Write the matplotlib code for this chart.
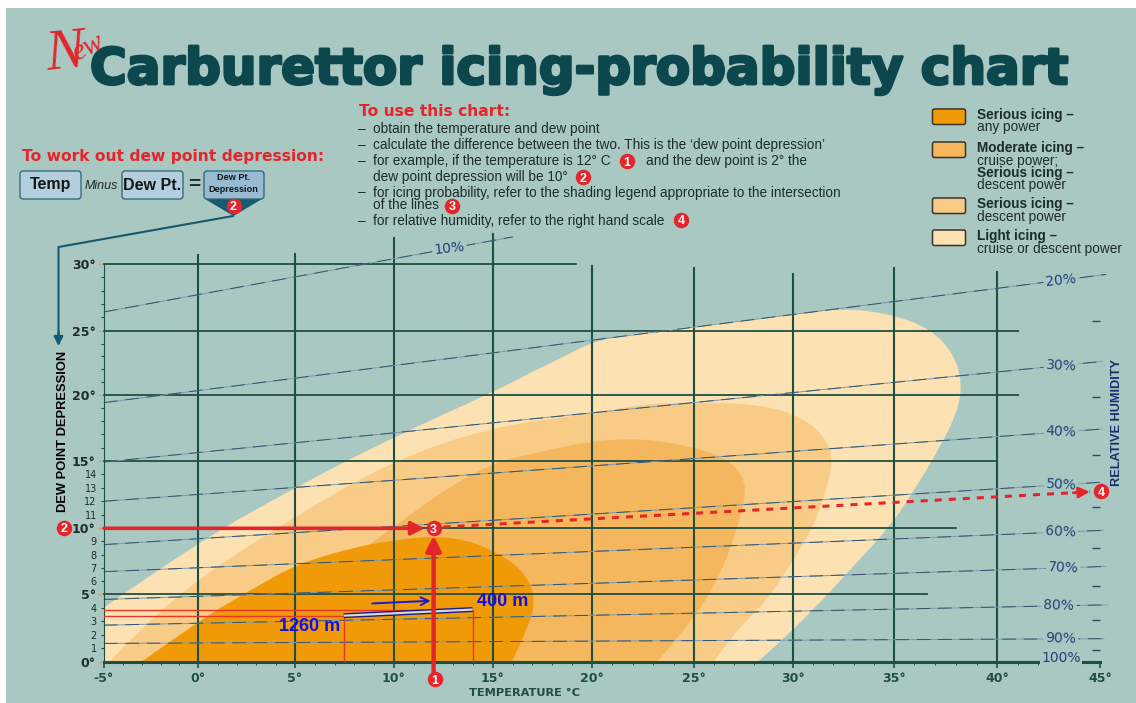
import numpy as np
import matplotlib
matplotlib.use('Agg')
import matplotlib.pyplot as plt
import matplotlib.patheffects as pe
from matplotlib.patches import FancyBboxPatch, PathPatch, Polygon, Rectangle
from matplotlib.path import Path

W, H = 1136, 703

# the printed grid is not quite even, keep the printed spacing
temp_grid = [-30, -5, 0, 5, 10, 15, 20, 25, 30, 35, 40, 45, 70]
temp_pos = [-393, 104, 198.3, 295, 394, 493, 591.7, 694, 793.3, 893.7, 997.3, 1100, 1600]
dep_grid = [-30, 0, 5, 10, 15, 20, 25, 30, 60]
dep_pos = [-400, 0, 67.7, 133.4, 201, 267, 331, 398, 800]

# icing regions, temperature / dew point depression outlines
light_t = [-5, 0, 5, 10, 15, 17, 18.75, 20, 22, 25, 27, 30, 32.5, 35, 36.8, 37.9, 38.3, 38.1, 37.2, 35.9, 34.8, 32.8, 31, 28.7, 28.2]
light_d = [4, 9, 13, 16.8, 20.2, 21.8, 23.1, 24.1, 24.8, 25.3, 25.7, 26.2, 26.7, 26.2, 25.1, 23.2, 20.9, 18.8, 15.9, 12.6, 10.1, 6.8, 3.8, 0.6, 0]
serious_t = [-4.7, -3.3, 0, 5, 10, 15, 20, 22.5, 25, 28, 30, 31.4, 32, 31.7, 31, 30, 28.7, 27, 26]
serious_d = [0, 2.1, 6.2, 10.9, 15.05, 17.6, 18.55, 19.3, 19.4, 19.3, 18.6, 17.2, 15.3, 13.05, 10.1, 7.6, 4.55, 2.1, 0]
moderate_t = [5.3, 8.6, 12, 15, 17.5, 20, 22.5, 25, 26.7, 27.5, 27.6, 27.2, 26.3, 25, 23.2]
moderate_d = [5.5, 8.5, 12.35, 14.9, 15.7, 16.5, 16.7, 16.05, 15.1, 13.8, 12.35, 10.1, 6.3, 3.15, 0]
any_t = [-3, 0, 2.7, 5, 7.8, 10, 12, 13.7, 15, 16.2, 16.9, 17.1, 16.9, 15.95]
any_d = [0, 3, 5.3, 7.2, 8.5, 9.1, 9.4, 9.1, 8.3, 7.2, 5.8, 4.55, 2.85, 0]

# relative humidity lines
rh_labels = ['10%', '20%', '30%', '40%', '50%', '60%', '70%', '80%', '90%']
rh_t0 = [-5] * 9
rh_d0 = [26.4, 19.4, 14.9, 12.0, 8.76, 6.7, 4.6, 2.7, 1.35]
rh_t1 = [16, 45.3, 45.1, 45.1, 45, 45.2, 45.3, 45.4, 45.2]
rh_d1 = [32.0, 29.2, 22.6, 17.4, 13.4, 9.85, 7.1, 4.2, 1.7]
rh_label_t = [12.8, 43.1, 43.1, 43.1, 43.1, 43.1, 43.2, 43, 43.1]
rh_label_rot = [6, 6, -3, -3, -3, -3, -3, -2, -2]
rh_tick_d = [25.7, 19.8, 15.4, 11.55, 8.5, 5.6, 3.05, 0.9]

# grid line extents
v_grid = [0, 5, 10, 15, 20, 25, 30, 35, 40]
v_top = [30.65, 30.7, 31.9, 32.2, 29.8, 29.7, 29.2, 29.7, 29.4]
h_grid = [5, 10, 15, 20, 25, 30]
h_end = [36.6, 38, 39.9, 41, 41, 19.2]

# worked example
example_temp = 12
example_dep = 10
dashed_t = [12.5, 44.5]
dashed_d = [10.1, 12.7]
climb_t = [7.46, 13.97]
climb_d = [3.4, 3.85]

how_to = [
    'obtain the temperature and dew point',
    'calculate the difference between the two. This is the \u2018dew point depression\u2019',
    'for example, if the temperature is 12\u00b0 C',
    None,
    'for icing probability, refer to the shading legend appropriate to the intersection',
    None,
    'for relative humidity, refer to the right hand scale',
]

legend_colors = ['#F09A08', '#F4B75E', '#F8CC86', '#FCE2B3']
legend_top = [109, 142, 198, 230]
legend_text = [('Serious icing \u2013', 'bold', 115), ('any power', 'normal', 127),
               ('Moderate icing \u2013', 'bold', 148), ('cruise power;', 'normal', 160.5),
               ('Serious icing \u2013', 'bold', 172.5), ('descent power', 'normal', 185),
               ('Serious icing \u2013', 'bold', 204), ('descent power', 'normal', 217),
               ('Light icing \u2013', 'bold', 236), ('cruise or descent power', 'normal', 248.5)]

TEAL = '#A9C8C2'
RED = '#E2262C'
GRID = '#1F4F40'
NAVY = '#17306E'
INK = '#1D2B2B'
HELV = 'Liberation Sans'
WIDE = 'DejaVu Sans'


def smooth_outline(ts, ds, close=None):
    # quadratic spline through the midpoints, ends stay where they are
    p = np.column_stack([ts, ds])
    verts = [p[0]]
    codes = [Path.MOVETO]
    for i in range(1, len(p) - 1):
        end = p[i + 1] if i == len(p) - 2 else (p[i] + p[i + 1]) / 2
        verts += [p[i], end]
        codes += [Path.CURVE3, Path.CURVE3]
    if close is not None:
        verts.append(close)
        codes.append(Path.LINETO)
    verts.append(p[0])
    codes.append(Path.CLOSEPOLY)
    return Path(verts, codes)


def badge(axis, x, y, s):
    axis.scatter([x], [y], s=125, color=RED, linewidths=0, zorder=8, clip_on=False)
    axis.text(x, y, s, color='white', fontsize=9, fontweight='bold', family=HELV,
              ha='center', va='center_baseline', zorder=9, clip_on=False)


fig = plt.figure(figsize=(W / 100, H / 100), dpi=100, facecolor='white')
fig.patches.append(Rectangle((6 / W, 0), 1, 1 - 8 / H, transform=fig.transFigure,
                             facecolor=TEAL, edgecolor='none', zorder=-5))

ax = fig.add_axes([104 / W, (H - 661.7) / H, (1100 - 104) / W, (661.7 - 263.7) / H])
ax.patch.set_visible(False)
ax.set_xscale('function', functions=(lambda v: np.interp(v, temp_grid, temp_pos),
                                     lambda v: np.interp(v, temp_pos, temp_grid)))
ax.set_yscale('function', functions=(lambda v: np.interp(v, dep_grid, dep_pos),
                                     lambda v: np.interp(v, dep_pos, dep_grid)))
ax.set_xlim(-5, 45)
ax.set_ylim(0, 30)

# shaded regions, biggest first
ax.add_patch(PathPatch(smooth_outline(light_t, light_d, close=(-5, 0)), fc=legend_colors[3], ec='none', zorder=1))
ax.add_patch(PathPatch(smooth_outline(serious_t, serious_d), fc=legend_colors[2], ec='none', zorder=1.1))
ax.add_patch(PathPatch(smooth_outline(moderate_t, moderate_d, close=(moderate_t[0], 0)), fc=legend_colors[1], ec='none', zorder=1.2))
ax.add_patch(PathPatch(smooth_outline(any_t, any_d), fc=legend_colors[0], ec='none', zorder=1.3))

# grid
for t, top in zip(v_grid, v_top):
    ax.plot([t, t], [0, top], color=GRID, lw=1.5, zorder=2, clip_on=False)
for d, end in zip(h_grid, h_end):
    ax.plot([-5, end], [d, d], color=GRID, lw=1.3, zorder=2, clip_on=False)

# humidity lines
for i in range(len(rh_labels)):
    xs = [rh_t0[i], rh_t1[i]]
    ys = [rh_d0[i], rh_d1[i]]
    ax.plot(xs, ys, color='#7E9BAA', lw=0.7, zorder=2.2, clip_on=False)
    ax.plot(xs, ys, color='#34536C', lw=0.7, dashes=(14, 8), zorder=2.3, clip_on=False)
    ax.text(rh_label_t[i], np.interp(rh_label_t[i], xs, ys), rh_labels[i], color='#24407A',
            fontsize=10, family=WIDE, ha='center', va='center', rotation=rh_label_rot[i],
            rotation_mode='anchor', zorder=3,
            bbox=dict(fc=TEAL, ec='none', pad=1.5))
ax.text(43.1, 0.25, '100%', color='#24407A', fontsize=10, family=WIDE, ha='center', va='center',
        zorder=4, bbox=dict(fc=TEAL, ec='none', pad=1))
ax.plot([44.8] * len(rh_tick_d), rh_tick_d, ls='none', marker='_', ms=6, mew=1, color='#2C4C68', clip_on=False)

# axes
for side in ['top', 'right']:
    ax.spines[side].set_visible(False)
ax.spines['bottom'].set_color(GRID)
ax.spines['bottom'].set_linewidth(2.2)
ax.spines['left'].set_color(GRID)
ax.spines['left'].set_linewidth(0.8)
major_x = list(range(-5, 50, 5))
ax.set_xticks(major_x, [f'{v}\u00b0' for v in major_x], fontsize=9, fontweight='bold', family=WIDE, color=GRID)
ax.set_xticks([v for v in range(-5, 46) if v % 5], minor=True)
ax.tick_params(axis='x', which='major', length=4.5, width=1.2, color=GRID, pad=3)
ax.tick_params(axis='x', which='minor', length=2.2, width=0.7, color=GRID)
major_y = list(range(0, 35, 5))
ax.set_yticks(major_y, [f'{v}\u00b0' for v in major_y], fontsize=9, fontweight='bold', family=WIDE, color=INK)
minor_y = [v for v in range(1, 30) if v % 5]
ax.set_yticks(minor_y, [str(v) if v < 15 else '' for v in minor_y], minor=True, fontsize=7, family=WIDE, color=INK)
ax.tick_params(axis='y', which='major', length=4, width=1, color='#C3A67E', pad=2)
ax.tick_params(axis='y', which='minor', length=2.2, width=0.8, color=GRID, pad=3)

# the 1260 m / 400 m climb
ax.plot([-5, climb_t[1], climb_t[1]], [climb_d[1], climb_d[1], 0], color='#E8352A', lw=1, zorder=3)
ax.plot([-5, climb_t[0], climb_t[0]], [climb_d[0], climb_d[0], 0], color='#E8352A', lw=1, zorder=3)
ax.plot(climb_t, climb_d, color='#1A1A90', lw=3.6, zorder=4, solid_capstyle='butt')
ax.plot(climb_t, climb_d, color='#DADACB', lw=1.6, zorder=4.1, solid_capstyle='butt')
ax.annotate('', xy=(11.85, 4.5), xytext=(8.9, 4.3), zorder=4,
            arrowprops=dict(arrowstyle='->', color='#1A1AD0', lw=1.4, mutation_scale=14, shrinkA=0, shrinkB=0))
ax.text(7.3, 2.6, '1260 m', color='#1010E6', fontsize=13, fontweight='bold', family=HELV,
        ha='right', va='center', zorder=5)
ax.text(14.2, 4.45, '400 m', color='#1010E6', fontsize=13, fontweight='bold', family=HELV,
        ha='left', va='center', zorder=5)

# worked example arrows
ax.annotate('', xy=(11.55, example_dep), xytext=(-5, example_dep), zorder=6, annotation_clip=False,
            arrowprops=dict(arrowstyle='-|>', color=RED, lw=2.6, mutation_scale=20, shrinkA=0, shrinkB=0))
ax.annotate('', xy=(example_temp, 9.45), xytext=(example_temp, -1.5), zorder=6, annotation_clip=False,
            arrowprops=dict(arrowstyle='-|>', color=RED, lw=3.2, mutation_scale=22, shrinkA=0, shrinkB=0))
ax.plot(dashed_t, dashed_d, color=RED, lw=2.2, dashes=(2.3, 2.3), zorder=6, clip_on=False)
ax.annotate('', xy=(dashed_t[1], dashed_d[1]), xytext=(43.7, 12.63), zorder=6, annotation_clip=False,
            arrowprops=dict(arrowstyle='-|>', color=RED, lw=2, mutation_scale=16, shrinkA=0, shrinkB=0))
badge(ax, example_temp, example_dep, '3')
badge(ax, 45.05, 12.75, '4')

# everything around the plot, in picture pixels
ov = fig.add_axes([0, 0, 1, 1], zorder=5)
ov.set_xlim(0, W)
ov.set_ylim(H, 0)
ov.axis('off')

ov.text(90, 84, 'Carburettor icing-probability chart', color='#0B474D', fontsize=36, family=WIDE,
        fontweight='bold', ha='left', va='baseline',
        path_effects=[pe.withStroke(linewidth=2, foreground='#0B474D')])
ov.text(43, 70, 'N', color=RED, fontsize=42, style='italic', family='Liberation Serif', rotation=6, ha='left', va='baseline')
ov.text(68, 60, 'ew', color=RED, fontsize=21, style='italic', family='Liberation Serif', rotation=25, ha='left', va='baseline')

ov.text(359, 112, 'To use this chart:', color=RED, fontsize=11.2, fontweight='bold', family=WIDE, va='center')
line_y = [129, 145, 161, 177, 192.5, 205, 221]
for y, line in zip(line_y, how_to):
    if line is None:
        continue
    ov.text(358, y, '\u2013', color=INK, fontsize=9.8, family=HELV, va='center')
    ov.text(373, y, line, color=INK, fontsize=9.8, family=HELV, va='center')
ov.text(646, 161, 'and the dew point is 2\u00b0 the', color=INK, fontsize=9.8, family=HELV, va='center')
ov.text(373, 177, 'dew point depression will be 10\u00b0', color=INK, fontsize=9.8, family=HELV, va='center')
ov.text(373, 205, 'of the lines', color=INK, fontsize=9.8, family=HELV, va='center')
badge(ov, 627, 161, '1')
badge(ov, 583, 177, '2')
badge(ov, 452, 206, '3')
badge(ov, 681, 220, '4')

# dew point depression sum
ov.text(22, 156, 'To work out dew point depression:', color=RED, fontsize=11.2, fontweight='bold', family=WIDE, va='center')
for x0, x1, s in [(20, 81, 'Temp'), (122, 183, 'Dew Pt.')]:
    ov.add_patch(FancyBboxPatch((x0 + 3, 174), x1 - x0 - 6, 22, boxstyle='round,pad=3', fc='#B3CEDC', ec='#2F6076', lw=0.9))
    ov.text((x0 + x1) / 2, 185, s, color='#101818', fontsize=11.5, fontweight='bold', family=HELV, ha='center', va='center')
ov.text(101.5, 186, 'Minus', color=INK, fontsize=9, family=HELV, style='italic', ha='center', va='center')
ov.text(194, 184, '=', color=INK, fontsize=15, fontweight='bold', family=HELV, ha='center', va='center')
ov.add_patch(Polygon([(205, 199), (262, 199), (233.5, 216)], fc='#17596E', ec='none', zorder=2))
ov.add_patch(FancyBboxPatch((207, 174), 54, 22, boxstyle='round,pad=3', fc='#98BBD2', ec='#2F6076', lw=0.9, zorder=2.1))
ov.text(233.5, 178, 'Dew Pt.', color='#101818', fontsize=6.6, fontweight='bold', family=HELV, ha='center', va='center')
ov.text(233.5, 190, 'Depression', color='#101818', fontsize=6.6, fontweight='bold', family=HELV, ha='center', va='center')
badge(ov, 233.5, 206, '2')
ov.plot([233, 58.5, 58.5], [216, 247, 338], color='#17596E', lw=1.5)
ov.annotate('', xy=(58.5, 346), xytext=(58.5, 332),
            arrowprops=dict(arrowstyle='-|>', color='#17596E', lw=1.5, mutation_scale=14, shrinkA=0, shrinkB=0))
badge(ov, 64, 528, '2')
badge(ov, 435, 679, '1')

# legend
for top, c in zip(legend_top, legend_colors):
    ov.add_patch(FancyBboxPatch((934.5, top + 2), 29, 11.5, boxstyle='round,pad=2', fc=c, ec='#3B3328', lw=1.1))
for s, weight, y in legend_text:
    ov.text(977, y, s, color=INK, fontsize=9.8, fontweight=weight, family=HELV, va='center')

# axis titles
ov.text(63, 431, 'DEW POINT DEPRESSION', color='black', fontsize=9.3, fontweight='bold', family=HELV,
        rotation=90, ha='center', va='center')
ov.text(1117, 423, 'RELATIVE HUMIDITY', color=NAVY, fontsize=9.2, fontweight='bold', family=HELV,
        rotation=90, ha='center', va='center')
ov.text(524.5, 693, 'TEMPERATURE \u00b0C', color=GRID, fontsize=8.2, fontweight='bold', family=WIDE, ha='center', va='center')

fig.savefig('out.png', dpi=100, facecolor='white')
